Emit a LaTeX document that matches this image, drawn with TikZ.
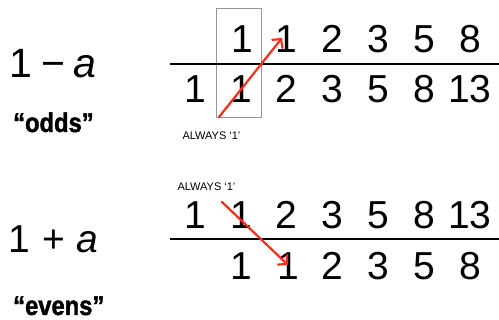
\documentclass[tikz,border=0pt]{standalone}
\usepackage{fontspec}
\setmainfont{Liberation Sans}
\newfontfamily\quotefont{Liberation Sans}[FakeStretch=0.88, BoldFeatures={FakeBold=1.5}]
\usetikzlibrary{arrows.meta}
\definecolor{arrowred}{RGB}{250,45,25}
\definecolor{boxgray}{RGB}{150,150,150}
\tikzset{
  digit/.style={anchor=base, inner sep=0pt, font=\fontsize{39}{39}\selectfont},
  formula/.style={anchor=base west, inner sep=0pt},
  tag/.style={anchor=base west, inner sep=0pt, font=\quotefont\bfseries\fontsize{27}{27}\selectfont},
  note/.style={anchor=base, inner sep=0pt, font=\fontsize{11}{11}\selectfont},
  rule/.style={line width=2pt, black},
  redarrow/.style={line width=2.2pt, arrowred, line cap=round, -{Straight Barb[length=6pt,width=13pt,line cap=round]}},
}
\begin{document}
\begin{tikzpicture}[x=1pt,y=-1pt]
\useasboundingbox (0,0) rectangle (499,320);
% formulas
\node[formula, font=\fontsize{41}{41}\selectfont] (f1) at (9.5,78) {1\hspace{8.6pt}−\hspace{8.4pt}\textit{a}};
\node[formula, font=\fontsize{39}{39}\selectfont] (f2) at (8.7,253) {1\hspace{12.4pt}+\hspace{10.5pt}\textit{a}};
\node[tag] (odds) at (13,132) {“odds”};
\node[tag] (evens) at (13,315) {“evens”};
% top table
\draw[boxgray, line width=0.8pt] (216,8) rectangle (261,117);
\node[digit] (ta1) at (242,53) {1};
\node[digit] (ta2) at (286,53) {1};
\node[digit] (ta3) at (332,53) {2};
\node[digit] (ta4) at (378,53) {3};
\node[digit] (ta5) at (424,53) {5};
\node[digit] (ta6) at (470,53) {8};
\coordinate (tl0) at (170,64);
\coordinate (tl1) at (499,64);
\draw[rule] (tl0) -- (tl1);
\node[digit] (tb0) at (195,103) {1};
\node[digit] (tb1) at (241,103) {1};
\node[digit] (tb2) at (286,103) {2};
\node[digit] (tb3) at (332,103) {3};
\node[digit] (tb4) at (378,103) {5};
\node[digit] (tb5) at (424,103) {8};
\node[digit] (tb6) at (470,103) {13};
\node[note] (al1) at (211.5,140) {ALWAYS ‘1’};
\coordinate (ts) at (219,117);
\coordinate (te) at (282,38);
\draw[redarrow] (ts) -- (te);
% bottom table
\node[note] (al2) at (206.5,191) {ALWAYS ‘1’};
\node[digit] (ba0) at (195,229) {1};
\node[digit] (ba1) at (241,229) {1};
\node[digit] (ba2) at (286,229) {2};
\node[digit] (ba3) at (332,229) {3};
\node[digit] (ba4) at (378,229) {5};
\node[digit] (ba5) at (424,229) {8};
\node[digit] (ba6) at (470,229) {13};
\coordinate (bl0) at (170,239);
\coordinate (bl1) at (499,239);
\draw[rule] (bl0) -- (bl1);
\node[digit] (bb1) at (241,280) {1};
\node[digit] (bb2) at (288,280) {1};
\node[digit] (bb3) at (332,280) {2};
\node[digit] (bb4) at (378,280) {3};
\node[digit] (bb5) at (424,280) {5};
\node[digit] (bb6) at (470,280) {8};
\coordinate (bs) at (222,202);
\coordinate (be) at (288,265);
\draw[redarrow] (bs) -- (be);
\end{tikzpicture}
\end{document}
